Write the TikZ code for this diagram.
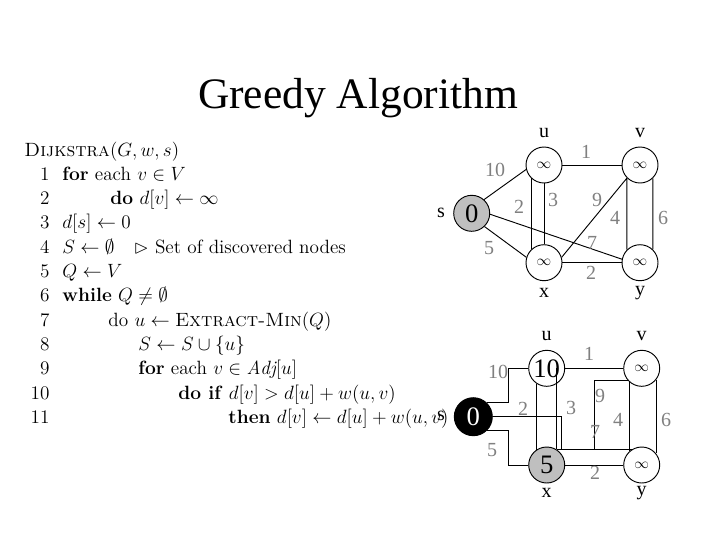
\documentclass[tikz,border=0pt]{standalone}
\usepackage{latexsym}
\usepackage{fontspec}
\newfontfamily\timesfont{Liberation Serif}
\newcommand{\vocung}{{\fontsize{11}{11}\selectfont$\infty$}}
\begin{document}
\begin{tikzpicture}[x=0.75pt,y=-0.75pt,line width=0.7pt,
  dinh/.style={draw,circle,minimum size=27pt,inner sep=0pt,font=\timesfont\fontsize{20}{20}\selectfont},
  ten/.style={font=\timesfont\fontsize{15}{15}\selectfont},
  trongso/.style={text=black!50,font=\timesfont\fontsize{15}{15}\selectfont},
  dong/.style={anchor=base west,inner sep=0pt,font=\fontsize{14.4}{18}\selectfont},
  so/.style={anchor=base east,inner sep=0pt,font=\fontsize{14.4}{18}\selectfont}]
\useasboundingbox (0,0) rectangle (720,540);
% Tiêu đề
\node[anchor=base,font=\timesfont\fontsize{32.6}{36}\selectfont] (tieude) at (358,108) {Greedy Algorithm};
% Thuật toán Dijkstra
\node[dong] (l0) at (24,156) {\textsc{Dijkstra}$(G,w,s)$};
\foreach \i/\x/\t in {1/62/{\textbf{for} each $v\in V$},
    2/110/{\textbf{do} $d[v]\leftarrow\infty$},
    3/62/{$d[s]\leftarrow0$},
    4/62/{$S\leftarrow\emptyset$\quad$\rhd$ Set of discovered nodes},
    5/62/{$Q\leftarrow V$},
    6/62/{\textbf{while} $Q\neq\emptyset$},
    7/108/{do $u\leftarrow{}$\textsc{Extract-Min}$(Q)$},
    8/138/{$S\leftarrow S\cup\{u\}$},
    9/138/{\textbf{for} each $v\in\mathit{Adj}[u]$},
    10/178/{\textbf{do if} $d[v]>d[u]+w(u,v)$},
    11/228/{\textbf{then} $d[v]\leftarrow d[u]+w(u,v)$}}
  {\node[so] (n\i) at (50,156+24.3*\i) {\i};
   \node[dong] (l\i) at (\x,156+24.3*\i) {\t};}
% Đồ thị trên
\node[dinh,fill=black!25] (s1) at (471.7,213.3) {0};
\node[dinh] (u1) at (544,165) {\vocung};
\node[dinh] (v1) at (640,165) {\vocung};
\node[dinh] (x1) at (544,262.7) {\vocung};
\node[dinh] (y1) at (640,262.7) {\vocung};
\node[ten] (ts1) at (441,213) {s};
\node[ten] (tu1) at (544,133) {u};
\node[ten] (tv1) at (640,133) {v};
\node[ten] (tx1) at (544,293) {x};
\node[ten] (ty1) at (640,293) {y};
\draw (s1.48)--(u1.194) (s1.-46)--(x1.163) (s1.-3)--(y1.169);
\draw (u1.east)--(v1.west) (x1.east)--(y1.west);
\draw (u1.226)--(x1.134) (u1.south)--(x1.north);
\draw (v1.225)--(y1.135) (v1.-46)--(y1.46) (x1.17)--(v1.225);
\foreach \w/\a/\b [count=\k] in {10/495/170,2/519/207,3/553/200,5/489/248,1/586/152,9/597/200,4/615/218,6/663/218,7/592/243,2/591/273}
  \node[trongso] (a\k) at (\a,\b) {\w};
% Đồ thị dưới
\node[dinh,fill=black,text=white,minimum size=28.5pt] (s2) at (473.3,416.7) {0};
\node[dinh] (u2) at (546.7,368.3) {10};
\node[dinh] (v2) at (641.7,368.3) {\vocung};
\node[dinh,fill=black!25] (x2) at (546.7,465) {5};
\node[dinh] (y2) at (641.7,465) {\vocung};
\node[ten] (ts2) at (441,416) {s};
\node[ten] (tu2) at (546.7,336) {u};
\node[ten] (tv2) at (641.7,336) {v};
\node[ten] (tx2) at (546.7,493) {x};
\node[ten] (ty2) at (641.7,493) {y};
\draw (s2.47)--++(22,0)|-(u2) (s2.-47)--++(22,0)|-(x2);
\draw (s2.east)--++(69,0)|-(y2.123) (x2.57)--++(38,0)|-(v2.220);
\draw (u2.east)--(v2.west) (x2.east)--(y2.west);
\draw (u2.236)--(x2.124) (x2.59)--(x2.59|-u2.center);
\draw (v2.229)--(y2.131) (v2.-39)--(y2.39);
\foreach \w/\a/\b [count=\k] in {10/498/372,2/523/409,3/571/408,5/492/450,1/589/354,9/600/396,7/595/432,4/618/420,6/666/420,2/595/473}
  \node[trongso] (b\k) at (\a,\b) {\w};
\end{tikzpicture}
\end{document}
